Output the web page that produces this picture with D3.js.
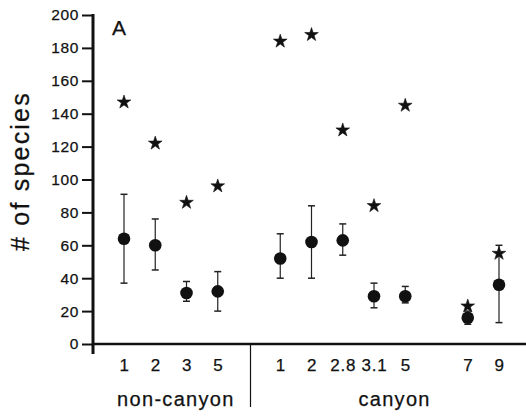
<!DOCTYPE html>
<html>
<head>
<meta charset="utf-8">
<script src="https://cdn.jsdelivr.net/npm/d3@7"></script>
<style>
  html, body { margin: 0; padding: 0; background: #fff; }
  svg text { font-family: "Liberation Sans", Arial, Helvetica, sans-serif; fill: #111; stroke: #111; stroke-width: 0.25px; }
</style>
</head>
<body>
<div id="chart"></div>
<script>
"use strict";

/* ── Data ── */
const categories = ["nc-1", "nc-2", "nc-3", "nc-5", "c-1", "c-2", "c-2.8", "c-3.1", "c-5", "c-7", "c-9"];
const tickLabels = ["1", "2", "3", "5", "1", "2", "2.8", "3.1", "5", "7", "9"];
// slot order along the x axis, including the divider and the empty slot before 7
const slotOrder  = ["nc-1", "nc-2", "nc-3", "nc-5", "divider", "c-1", "c-2", "c-2.8", "c-3.1", "c-5", "gap", "c-7", "c-9"];
const starValues = [147, 122, 86, 96, 184, 188, 130, 84, 145, 23, 55];
const meanValues = [64, 60, 31, 32, 52, 62, 63, 29, 29, 16, 36];
const errHigh    = [91, 76, 38, 44, 67, 84, 73, 37, 35, 20, 60];
const errLow     = [37, 45, 26, 20, 40, 40, 54, 22, 25, 12, 13];
const yTicks     = [0, 20, 40, 60, 80, 100, 120, 140, 160, 180, 200];
const groupLabels = [
  { text: "non-canyon", members: ["nc-1", "nc-5"] },
  { text: "canyon",     members: ["c-1", "c-9"] }
];

/* ── Dimensions ── */
const W = 526, H = 417;
const margin = { top: 15, right: 27, bottom: 73, left: 93 };

const svg = d3.select("#chart").append("svg")
  .attr("width", W).attr("height", H);

/* ── Scales ── */
const y = d3.scaleLinear().domain([0, 200]).range([H - margin.bottom, margin.top]);
const x = d3.scalePoint().domain(slotOrder).range([124, 499]);

const rows = categories.map((c, i) => ({
  key: c, label: tickLabels[i], star: starValues[i],
  mean: meanValues[i], hi: errHigh[i], lo: errLow[i]
}));

/* ── Y axis ── */
svg.append("g")
  .attr("transform", `translate(${margin.left},0)`)
  .call(d3.axisLeft(y).tickValues(yTicks).tickSize(11).tickPadding(3).tickSizeOuter(0))
  .call(g => {
    g.select(".domain").remove();
    g.selectAll(".tick line").attr("stroke", "#111").attr("stroke-width", 2);
    g.selectAll(".tick text").attr("font-size", "15.5px").attr("letter-spacing", "0.6px");
  });

// vertical axis line, running a little below zero
svg.append("line")
  .attr("x1", margin.left).attr("x2", margin.left)
  .attr("y1", y(200) - 1).attr("y2", y(0) + 10)
  .attr("stroke", "#111").attr("stroke-width", 3);

/* ── X axis ── */
svg.append("line")
  .attr("x1", margin.left).attr("x2", W)
  .attr("y1", y(0)).attr("y2", y(0))
  .attr("stroke", "#111").attr("stroke-width", 2.5);

svg.append("g")
  .attr("transform", `translate(0,${y(0)})`)
  .call(d3.axisBottom(x).tickValues(categories).tickSize(0).tickPadding(15)
    .tickFormat(d => tickLabels[categories.indexOf(d)]))
  .call(g => {
    g.select(".domain").remove();
    g.selectAll(".tick text").attr("font-size", "17px").attr("letter-spacing", "0.8px");
  });

// divider between non-canyon and canyon
svg.append("line")
  .attr("x1", x("divider") + 1.5).attr("x2", x("divider") + 1.5)
  .attr("y1", y(0)).attr("y2", y(0) + 63)
  .attr("stroke", "#111").attr("stroke-width", 1.2);

svg.selectAll(".group-label")
  .data(groupLabels)
  .join("text")
  .attr("class", "group-label")
  .attr("x", d => (x(d.members[0]) + x(d.members[1])) / 2 + 5)
  .attr("y", y(0) + 62)
  .attr("text-anchor", "middle")
  .attr("font-size", "20px")
  .attr("letter-spacing", "1.3px")
  .text(d => d.text);

/* ── Y axis title and panel letter ── */
svg.append("text")
  .attr("transform", `translate(29,171) rotate(-90)`)
  .attr("text-anchor", "middle")
  .attr("font-size", "25px")
  .attr("letter-spacing", "2.2px")
  .text("# of species");

svg.append("text")
  .attr("x", 112).attr("y", 35)
  .attr("font-size", "21px")
  .text("A");

/* ── Error bars ── */
const bars = svg.append("g").attr("stroke", "#222");
bars.selectAll(".err")
  .data(rows)
  .join("line")
  .attr("x1", d => x(d.key)).attr("x2", d => x(d.key))
  .attr("y1", d => y(d.hi)).attr("y2", d => y(d.lo))
  .attr("stroke-width", 1.2);

bars.selectAll(".cap-hi")
  .data(rows)
  .join("line")
  .attr("x1", d => x(d.key) - 3.5).attr("x2", d => x(d.key) + 3.5)
  .attr("y1", d => y(d.hi)).attr("y2", d => y(d.hi))
  .attr("stroke-width", 1.5);

bars.selectAll(".cap-lo")
  .data(rows)
  .join("line")
  .attr("x1", d => x(d.key) - 3.5).attr("x2", d => x(d.key) + 3.5)
  .attr("y1", d => y(d.lo)).attr("y2", d => y(d.lo))
  .attr("stroke-width", 1.5);

/* ── Means (circles) ── */
svg.selectAll(".mean")
  .data(rows)
  .join("circle")
  .attr("class", "mean")
  .attr("cx", d => x(d.key))
  .attr("cy", d => y(d.mean))
  .attr("r", 6.3)
  .attr("fill", "#111");

/* ── Totals (stars) ── */
const star = d3.symbol().type(d3.symbolStar).size(58);
svg.selectAll(".star")
  .data(rows)
  .join("path")
  .attr("class", "star")
  .attr("transform", d => `translate(${x(d.key)},${y(d.star)})`)
  .attr("d", star)
  .attr("fill", "#111")
  .attr("stroke", "#111")
  .attr("stroke-width", 0.6)
  .attr("stroke-linejoin", "round");
</script>
</body>
</html>
